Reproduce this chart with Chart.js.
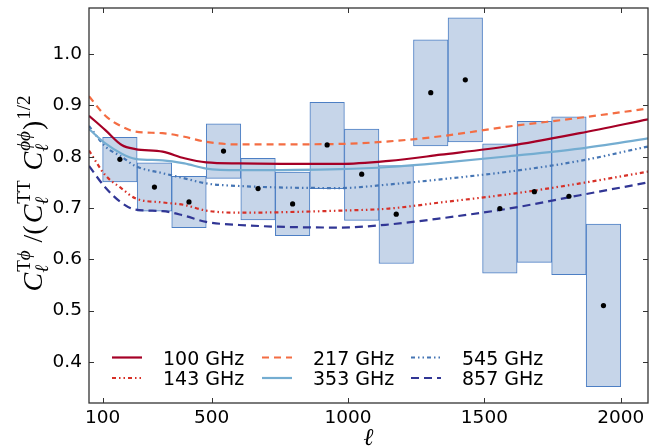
<!DOCTYPE html>
<html>
<head>
<meta charset="utf-8">
<script src="https://cdn.jsdelivr.net/npm/chart.js@4.4.1/dist/chart.umd.min.js"></script>
<style>
  html, body { margin: 0; padding: 0; background: white; }
</style>
</head>
<body>
<canvas id="myChart" width="650" height="447"></canvas>
<script>
// multipole bins (15 bins from 100 to 2000)
const binCenters = [163.3, 290, 416.7, 543.3, 670, 796.7, 923.3, 1050, 1176.7, 1303.3, 1430, 1556.7, 1683.3, 1810, 1936.7];
const boxLow  = [0.751, 0.694, 0.662, 0.758, 0.677, 0.646, 0.738, 0.676, 0.592, 0.821, 0.829, 0.573, 0.594, 0.570, 0.352];
const boxHigh = [0.838, 0.788, 0.762, 0.864, 0.797, 0.770, 0.906, 0.854, 0.783, 1.028, 1.071, 0.825, 0.869, 0.878, 0.669];
const measured = [0.795, 0.741, 0.712, 0.811, 0.738, 0.708, 0.823, 0.766, 0.688, 0.925, 0.950, 0.699, 0.732, 0.723, 0.510];

const curveEll = [50, 110, 170, 220, 320, 400, 480, 600, 970, 1150, 1340, 1590, 1850, 2100];
const ghz100 = [0.880, 0.852, 0.823, 0.815, 0.810, 0.797, 0.789, 0.787, 0.786, 0.792, 0.804, 0.821, 0.846, 0.873];
const ghz143 = [0.812, 0.764, 0.738, 0.719, 0.711, 0.706, 0.695, 0.691, 0.695, 0.699, 0.711, 0.727, 0.748, 0.771];
const ghz217 = [0.918, 0.880, 0.859, 0.849, 0.846, 0.839, 0.829, 0.824, 0.825, 0.830, 0.840, 0.859, 0.876, 0.894];
const ghz353 = [0.854, 0.826, 0.806, 0.796, 0.793, 0.787, 0.777, 0.774, 0.776, 0.780, 0.788, 0.801, 0.816, 0.836];
const ghz545 = [0.860, 0.820, 0.800, 0.782, 0.768, 0.758, 0.748, 0.743, 0.739, 0.746, 0.756, 0.771, 0.792, 0.820];
const ghz857 = [0.782, 0.740, 0.710, 0.697, 0.694, 0.685, 0.673, 0.667, 0.662, 0.668, 0.680, 0.699, 0.725, 0.750];

const xTicks = [100, 500, 1000, 1500, 2000];
const yTicks = [0.4, 0.5, 0.6, 0.7, 0.8, 0.9, 1.0];

const dashDot = [4, 3, 1.5, 3, 1.5, 3];
const toXY = vals => vals.map((v, i) => ({ x: curveEll[i], y: v }));

function curve(label, vals, color, dash) {
    return {
        type: 'line',
        label: label,
        data: toXY(vals),
        borderColor: color,
        borderWidth: 2.2,
        borderDash: dash,
        pointRadius: 0,
        fill: false,
        cubicInterpolationMode: 'monotone',
        order: 1
    };
}

// y axis label pieces: [base, subscript, superscript parts]
const yLabelParts = [
    ['C', 'ℓ', [['T', false], ['ϕ', true]]],
    [' /(', null, null],
    ['C', 'ℓ', [['TT', false]]],
    [' ', null, null],
    ['C', 'ℓ', [['ϕϕ', true]]],
    [')', null, [['1/2', false]]]
];

function drawYLabel(ctx, cx, cy) {
    const big = 28, small = 19;
    const fam = '"Liberation Serif", "DejaVu Serif", serif';
    const fnt = (it, s) => (it ? 'italic ' : '') + s + 'px ' + fam;
    const pieces = [];
    let w = 0;
    yLabelParts.forEach(([base, sub, sup]) => {
        ctx.font = fnt(base === 'C', big);
        const bw = ctx.measureText(base).width;
        let sw = 0, pw = 0;
        if (sub) { ctx.font = fnt(true, small); sw = ctx.measureText(sub).width; }
        if (sup) sup.forEach(([t, it]) => { ctx.font = fnt(it, small); pw += ctx.measureText(t).width; });
        pieces.push({ base, sub, sup, x: w, bw });
        w += bw + Math.max(sw, pw) + 2;
    });
    ctx.save();
    ctx.translate(cx, cy);
    ctx.rotate(-Math.PI / 2);
    ctx.fillStyle = '#000';
    ctx.textBaseline = 'alphabetic';
    ctx.textAlign = 'left';
    pieces.forEach(p => {
        let u = -w / 2 + p.x;
        ctx.font = fnt(p.base === 'C', big);
        ctx.fillText(p.base, u, 0);
        u += p.bw;
        if (p.sub) { ctx.font = fnt(true, small); ctx.fillText(p.sub, u, 6); }
        if (p.sup) {
            let su = u + 1;
            p.sup.forEach(([t, it]) => {
                ctx.font = fnt(it, small);
                ctx.fillText(t, su, -12);
                su += ctx.measureText(t).width;
            });
        }
    });
    ctx.restore();
}

const decorPlugin = {
    id: 'decor',
    afterDatasetsDraw(chart) {
        const { ctx, chartArea: a, scales: { x, y } } = chart;
        ctx.save();
        // inward ticks on all four sides
        ctx.strokeStyle = '#333';
        ctx.lineWidth = 1;
        ctx.beginPath();
        xTicks.forEach(v => {
            const px = Math.round(x.getPixelForValue(v)) + 0.5;
            ctx.moveTo(px, a.bottom); ctx.lineTo(px, a.bottom - 5);
            ctx.moveTo(px, a.top); ctx.lineTo(px, a.top + 5);
        });
        yTicks.forEach(v => {
            const py = Math.round(y.getPixelForValue(v)) + 0.5;
            ctx.moveTo(a.left, py); ctx.lineTo(a.left + 5, py);
            ctx.moveTo(a.right, py); ctx.lineTo(a.right - 5, py);
        });
        ctx.stroke();
        // frame
        ctx.lineWidth = 1.3;
        ctx.strokeRect(a.left, a.top, a.right - a.left, a.bottom - a.top);

        // legend, filled column by column (3 columns x 2 rows)
        const lines = chart.data.datasets.filter(d => d.type === 'line');
        const colX = [112, 262, 411];
        const rowY = [357.5, 378];
        ctx.font = '19px "DejaVu Sans"';
        ctx.fillStyle = '#000';
        ctx.textBaseline = 'alphabetic';
        ctx.textAlign = 'left';
        lines.forEach((d, i) => {
            const c = Math.floor(i / 2), r = i % 2;
            ctx.strokeStyle = d.borderColor;
            ctx.lineWidth = d.borderWidth;
            ctx.setLineDash(d.borderDash || []);
            ctx.beginPath();
            ctx.moveTo(colX[c], rowY[r]);
            ctx.lineTo(colX[c] + 30, rowY[r]);
            ctx.stroke();
            ctx.setLineDash([]);
            ctx.fillText(d.label, colX[c] + 51, rowY[r] + 7);
        });

        // axis titles
        drawYLabel(ctx, 42, 193);
        ctx.font = 'italic 24px "DejaVu Serif", serif';
        ctx.textAlign = 'center';
        ctx.fillText('ℓ', (a.left + a.right) / 2, 445);
        ctx.restore();
    }
};

const ctx = document.getElementById('myChart').getContext('2d');
const myChart = new Chart(ctx, {
    type: 'bar',
    data: {
        datasets: [
            {
                type: 'scatter',
                label: 'data',
                data: binCenters.map((c, i) => ({ x: c, y: measured[i] })),
                backgroundColor: '#000',
                borderWidth: 0,
                pointRadius: 2.6,
                order: 0
            },
            curve('100 GHz', ghz100, '#a50026', []),
            curve('143 GHz', ghz143, '#d73027', dashDot),
            curve('217 GHz', ghz217, '#f46d43', [7, 5]),
            curve('353 GHz', ghz353, '#74add1', []),
            curve('545 GHz', ghz545, '#4575b4', dashDot),
            curve('857 GHz', ghz857, '#313695', [8, 5]),
            {
                type: 'bar',
                label: 'bins',
                data: binCenters.map((c, i) => ({ x: c, y: [boxLow[i], boxHigh[i]] })),
                backgroundColor: '#c6d5e9',
                borderColor: '#4d7fc4',
                borderWidth: 1,
                borderSkipped: false,
                barPercentage: 1,
                categoryPercentage: 1,
                order: 3
            }
        ]
    },
    options: {
        responsive: false,
        animation: false,
        layout: { autoPadding: false, padding: { top: 8, right: 2, left: 0, bottom: 0 } },
        plugins: {
            legend: { display: false },
            tooltip: { enabled: false }
        },
        scales: {
            x: {
                type: 'linear',
                min: 50,
                max: 2100,
                offset: false,
                grid: { display: false, drawTicks: false },
                border: { display: false },
                afterBuildTicks: s => { s.ticks = xTicks.map(v => ({ value: v })); },
                afterFit: s => { s.height = 44; s.paddingLeft = 0; s.paddingRight = 0; },
                ticks: {
                    font: { family: 'DejaVu Sans', size: 18.5 },
                    color: '#000',
                    padding: 4,
                    maxRotation: 0,
                    autoSkip: false,
                    callback: v => String(v)
                }
            },
            y: {
                min: 0.32,
                max: 1.09,
                grid: { display: false, drawTicks: false },
                border: { display: false },
                afterBuildTicks: s => { s.ticks = yTicks.map(v => ({ value: v })); },
                afterFit: s => { s.width = 89; s.paddingTop = 0; s.paddingBottom = 0; },
                ticks: {
                    font: { family: 'DejaVu Sans', size: 18.5 },
                    color: '#000',
                    padding: 7,
                    callback: v => v.toFixed(1)
                }
            }
        }
    },
    plugins: [decorPlugin]
});
</script>
</body>
</html>
